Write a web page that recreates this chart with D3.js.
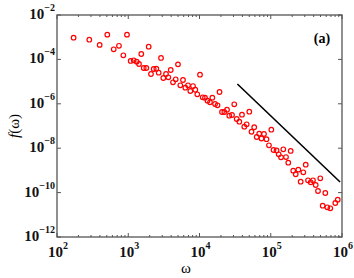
<!DOCTYPE html>
<html>
<head>
<meta charset="utf-8">
<script src="https://cdn.jsdelivr.net/npm/d3@7"></script>
<style>
  body { margin: 0; background: #fff; }
  text { font-family: "Liberation Serif", "DejaVu Serif", serif; }
</style>
</head>
<body>
<div id="chart"></div>
<script>
// frequency values
const omega = [171, 284, 397, 508, 625, 741, 853, 960, 1082, 1192,
  1314, 1415, 1524, 1648, 1792, 1936, 2085, 2276, 2477, 2675,
  2884, 3105, 3388, 3648, 3945, 4246, 4634, 4989, 5381, 5867,
  6324, 6900, 7430, 8110, 8730, 9310, 1.016e4, 1.109e4, 1.194e4, 1.295e4,
  1.403e4, 1.514e4, 1.652e4, 1.790e4, 1.910e4, 2.070e4, 2.229e4, 2.432e4, 2.618e4, 2.858e4,
  3.076e4, 3.327e4, 3.622e4, 3.945e4, 4.256e4, 4.592e4, 5.000e4, 5.370e4, 5.861e4, 6.353e4,
  6.887e4, 7.413e4, 8.035e4, 8.710e4, 9.441e4, 1.019e5, 1.094e5, 1.205e5, 1.294e5, 1.393e5,
  1.500e5, 1.637e5, 1.762e5, 1.905e5, 2.070e5, 2.239e5, 2.438e5, 2.630e5, 2.864e5, 3.097e5,
  3.334e5, 3.639e5, 3.917e5, 4.276e5, 4.603e5, 4.955e5, 5.358e5, 5.834e5, 6.223e5, 6.855e5,
  8.054e5, 8.710e5];
const fOmega = [9.5e-4, 7.7e-4, 4.5e-4, 1.3e-3, 2.85e-4, 4.1e-4, 1.53e-4, 1.3e-3, 8.5e-5, 9.1e-5,
  7.9e-5, 6.2e-5, 1.75e-4, 4.1e-5, 4.1e-5, 3.73e-4, 2.2e-5, 3.7e-5, 3.8e-5, 2.52e-5,
  1.16e-4, 1.45e-5, 2.2e-5, 1.56e-5, 3.33e-5, 9.3e-6, 1.27e-5, 6.0e-5, 6.8e-6, 1.18e-5,
  5.3e-6, 6.8e-6, 3.78e-6, 6.3e-6, 4.3e-6, 2.68e-6, 2.05e-5, 1.96e-6, 1.88e-6, 1.38e-6,
  1.17e-6, 1.88e-6, 9.8e-7, 8.55e-7, 3.4e-6, 4.27e-7, 4.27e-7, 5.4e-7, 2.91e-7, 3.13e-7,
  9.5e-7, 2.07e-7, 1.56e-7, 3.23e-7, 9.3e-8, 1.19e-7, 4.4e-7, 5.5e-8, 8.8e-8, 3.2e-8,
  4.5e-8, 2.73e-8, 4.36e-8, 2.54e-8, 1.35e-8, 6.8e-8, 8.3e-9, 7.9e-9, 5.3e-9, 3.9e-9,
  8.9e-9, 4.0e-9, 2.22e-9, 7.5e-9, 9.7e-10, 6.7e-10, 1.08e-9, 3.1e-10, 8.2e-10, 1.81e-9,
  3.58e-10, 2.91e-10, 3.58e-10, 2.2e-10, 1.18e-10, 4.4e-10, 2.57e-11, 9.6e-11, 2.18e-11, 1.96e-11,
  3.4e-11, 4.8e-11];

// reference power-law line (slope about -3)
const refLineOmega = [3.4e4, 9.4e5];
const refLineF = [7.8e-6, 3.0e-10];

const xTickExp = [2, 3, 4, 5, 6];
const yTickExp = [-2, -4, -6, -8, -10, -12];

const width = 354, height = 278;
const margin = { top: 15, right: 12, bottom: 41, left: 57 };

const svg = d3.select('#chart').append('svg')
  .attr('width', width)
  .attr('height', height);

const x = d3.scaleLog().domain([1e2, 1e6]).range([margin.left, width - margin.right]);
const y = d3.scaleLog().domain([1e-12, 1e-2]).range([height - margin.bottom, margin.top]);

const axisColor = '#555';
const x0 = margin.left, x1 = width - margin.right;
const y0 = height - margin.bottom, y1 = margin.top;

// minor ticks on the x axis (top and bottom)
const minorX = [];
for (let e = 2; e < 6; e++) {
  for (let m = 2; m <= 9; m++) minorX.push(m * Math.pow(10, e));
}
const g = svg.append('g');
minorX.forEach(v => {
  g.append('line').attr('x1', x(v)).attr('x2', x(v)).attr('y1', y0).attr('y2', y0 - 2)
    .attr('stroke', axisColor).attr('stroke-width', 1);
  g.append('line').attr('x1', x(v)).attr('x2', x(v)).attr('y1', y1).attr('y2', y1 + 2)
    .attr('stroke', axisColor).attr('stroke-width', 1);
});
xTickExp.forEach(e => {
  const v = Math.pow(10, e);
  g.append('line').attr('x1', x(v)).attr('x2', x(v)).attr('y1', y0).attr('y2', y0 - 4)
    .attr('stroke', axisColor);
  g.append('line').attr('x1', x(v)).attr('x2', x(v)).attr('y1', y1).attr('y2', y1 + 4)
    .attr('stroke', axisColor);
  const t = svg.append('text')
    .attr('x', x(v) + 1)
    .attr('y', y0 + 20)
    .attr('text-anchor', 'middle')
    .attr('font-size', '15px')
    .attr('font-weight', 'bold')
    .attr('fill', '#111');
  t.append('tspan').text('10');
  t.append('tspan').attr('dy', -8).attr('font-size', '10px').text(e);
});
yTickExp.forEach(e => {
  const v = Math.pow(10, e);
  g.append('line').attr('x1', x0).attr('x2', x0 + 4).attr('y1', y(v)).attr('y2', y(v))
    .attr('stroke', axisColor);
  g.append('line').attr('x1', x1).attr('x2', x1 - 4).attr('y1', y(v)).attr('y2', y(v))
    .attr('stroke', axisColor);
  const t = svg.append('text')
    .attr('x', 55)
    .attr('y', y(v) + 4)
    .attr('text-anchor', 'end')
    .attr('font-size', '15px')
    .attr('font-weight', 'bold')
    .attr('fill', '#111');
  t.append('tspan').text('10');
  t.append('tspan').attr('dy', -8).attr('font-size', '10px').text('\u2212' + (-e));
});

// frame
svg.append('rect')
  .attr('x', x0).attr('y', y1)
  .attr('width', x1 - x0).attr('height', y0 - y1)
  .attr('fill', 'none')
  .attr('stroke', axisColor)
  .attr('stroke-width', 1.3);

// reference line
svg.append('line')
  .attr('x1', x(refLineOmega[0])).attr('y1', y(refLineF[0]))
  .attr('x2', x(refLineOmega[1])).attr('y2', y(refLineF[1]))
  .attr('stroke', '#000')
  .attr('stroke-width', 1.6);

// data points
svg.append('g')
  .selectAll('circle')
  .data(omega.map((w, i) => [w, fOmega[i]]))
  .join('circle')
  .attr('cx', d => x(d[0]))
  .attr('cy', d => y(d[1]))
  .attr('r', 2.3)
  .attr('fill', 'none')
  .attr('stroke', '#f00')
  .attr('stroke-width', 1.2);

// labels
svg.append('text')
  .attr('x', 322).attr('y', 43)
  .attr('text-anchor', 'middle')
  .attr('font-size', '14px')
  .attr('font-weight', 'bold')
  .text('(a)');

svg.append('text')
  .attr('x', 186).attr('y', 273)
  .attr('text-anchor', 'middle')
  .attr('font-size', '15px')
  .text('\u03c9');

const yl = svg.append('text')
  .attr('transform', 'translate(19,126) rotate(-90)')
  .attr('text-anchor', 'middle')
  .attr('font-size', '15px');
yl.append('tspan').attr('font-style', 'italic').text('f');
yl.append('tspan').text('(\u03c9)');
</script>
</body>
</html>
